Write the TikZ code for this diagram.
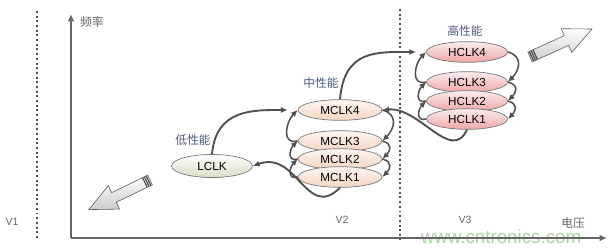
\documentclass[tikz,border=0pt]{standalone}
\usepackage{fontspec}
\setsansfont{Liberation Sans}
\newfontfamily\cjk{Noto Sans CJK SC}
\usepackage{tikz}
\usetikzlibrary{arrows.meta,shapes.geometric}

\definecolor{axisgray}{HTML}{666666}
\definecolor{linegray}{HTML}{505050}
\definecolor{rimgray}{HTML}{7A7A7A}
\definecolor{lowfill}{HTML}{D9DEC4}
\definecolor{midfill}{HTML}{F5D6C2}
\definecolor{highfill}{HTML}{EFA6A6}
\definecolor{tagblue}{HTML}{4A5A80}
\definecolor{markgreen}{HTML}{A9D6A0}

\begin{document}
\begin{tikzpicture}[
    >={Latex[length=2mm,width=1.8mm]},
    clk/.style={
        ellipse, draw=rimgray, line width=0.6pt,
        minimum height=0.62cm, minimum width=2.5cm, inner sep=0pt,
        font=\sffamily\fontsize{10}{12}\selectfont
    },
    low/.style={clk, top color=white, bottom color=lowfill, minimum width=2.43cm, minimum height=0.69cm},
    mid/.style={clk, top color=midfill!25, bottom color=midfill, minimum width=2.52cm},
    high/.style={clk, top color=highfill!20, bottom color=highfill, minimum width=2.43cm},
    tag/.style={font=\cjk\fontsize{10}{12}\selectfont, text=tagblue},
    axlbl/.style={font=\cjk\fontsize{10}{12}\selectfont, text=axisgray, inner sep=0pt},
    vlbl/.style={font=\sffamily\fontsize{9}{11}\selectfont, text=axisgray, inner sep=0pt},
    axis/.style={-{Latex[length=2.2mm,width=2mm]}, line width=1.3pt, draw=axisgray},
    bound/.style={dash pattern=on 1.7pt off 2.3pt, line width=1.7pt, draw=linegray},
    arr/.style={->, line width=1.6pt, draw=linegray},
    loop/.style={->, line width=1.3pt, draw=linegray},
    fatarrow/.pic={
        \draw[draw=gray!70!black, line width=0.5pt, top color=white, bottom color=gray!40]
          (0,-0.16) -- (1.2,-0.16) -- (1.2,-0.39) -- (2.04,0) -- (1.2,0.39) -- (1.2,0.16) -- (0,0.16) -- cycle;
        \foreach \s in {0.05,0.11,0.17}
          \draw[line width=1pt, gray!60!black] (\s,-0.16) -- (\s,0.16);
    }
]
\useasboundingbox (0,0) rectangle (18.27,7.47);

% axes and voltage bounds
\coordinate (o) at (2.13,0.33);
\coordinate (ytop) at (2.13,7.05);
\coordinate (xend) at (18.21,0.33);
\coordinate (b1top) at (1.11,7.14);
\coordinate (b1bot) at (1.11,0.30);
\coordinate (b2top) at (12.0,7.20);
\coordinate (b2bot) at (12.0,0.27);
\node[font=\sffamily\fontsize{16}{19}\selectfont, text=markgreen, inner sep=0pt] (mark) at (15.03,0.36) {www.cntronics.com};
\draw[axis] (o) -- (ytop);
\draw[axis] (o) -- (xend);
\draw[bound] (b1top) -- (b1bot);
\draw[bound] (b2top) -- (b2bot);
\node[axlbl, anchor=west] (freq) at (2.40,6.81) {频率};
\node[axlbl] (volt) at (17.19,0.78) {电压};
\node[vlbl] (v1) at (0.36,0.81) {V1};
\node[vlbl] (v2) at (10.26,0.87) {V2};
\node[vlbl] (v3) at (13.95,0.87) {V3};

% clock states
\node[low] (lclk) at (6.36,2.49) {LCLK};
\node[tag] (ltag) at (5.79,3.27) {低性能};
\node[mid] (m4) at (10.2,4.17) {MCLK4};
\node[mid] (m3) at (10.2,3.24) {MCLK3};
\node[mid] (m2) at (10.2,2.70) {MCLK2};
\node[mid] (m1) at (10.2,2.16) {MCLK1};
\node[tag] (mtag) at (9.63,4.98) {中性能};
\node[high] (h4) at (14.01,5.91) {HCLK4};
\node[high] (h3) at (14.01,5.01) {HCLK3};
\node[high] (h2) at (14.01,4.44) {HCLK2};
\node[high] (h1) at (14.01,3.90) {HCLK1};
\node[tag] (htag) at (13.95,6.54) {高性能};

% transitions between levels
\draw[arr, shorten >=0.3cm] (lclk.north) to[out=85, in=180, looseness=1.2] (m4.west);
\draw[arr, shorten >=0.3cm] (m4.north) to[out=85, in=180, looseness=1.3] (h4.west);
\draw[arr] (h1.south) to[out=-115, in=5, looseness=1.1] (m4.east);
\draw[arr] (m1.south) to[out=-135, in=20, looseness=1.35] (lclk.east);

% steps inside a level
\draw[loop] (m3.west) to[out=195, in=225, looseness=1.4] (m4.west);
\draw[loop] (m2.west) to[out=195, in=225, looseness=1.6] (m3.west);
\draw[loop] (m1.west) to[out=195, in=225, looseness=1.6] (m2.west);
\draw[loop] (m4.east) to[out=-15, in=45, looseness=1.4] (m3.east);
\draw[loop] (m3.east) to[out=-15, in=45, looseness=1.6] (m2.east);
\draw[loop] (m2.east) to[out=-15, in=45, looseness=1.6] (m1.east);
\draw[loop] (h3.west) to[out=195, in=225, looseness=1.4] (h4.west);
\draw[loop] (h2.west) to[out=195, in=225, looseness=1.6] (h3.west);
\draw[loop] (h1.west) to[out=195, in=225, looseness=1.6] (h2.west);
\draw[loop] (h4.east) to[out=-15, in=45, looseness=1.4] (h3.east);
\draw[loop] (h3.east) to[out=-15, in=45, looseness=1.6] (h2.east);
\draw[loop] (h2.east) to[out=-15, in=45, looseness=1.6] (h1.east);

% frequency trend arrows
\pic[rotate=24.3] at (15.9,5.76) {fatarrow};
\pic[rotate=205.8, yscale=-1] at (4.5,2.07) {fatarrow};
\end{tikzpicture}
\end{document}
